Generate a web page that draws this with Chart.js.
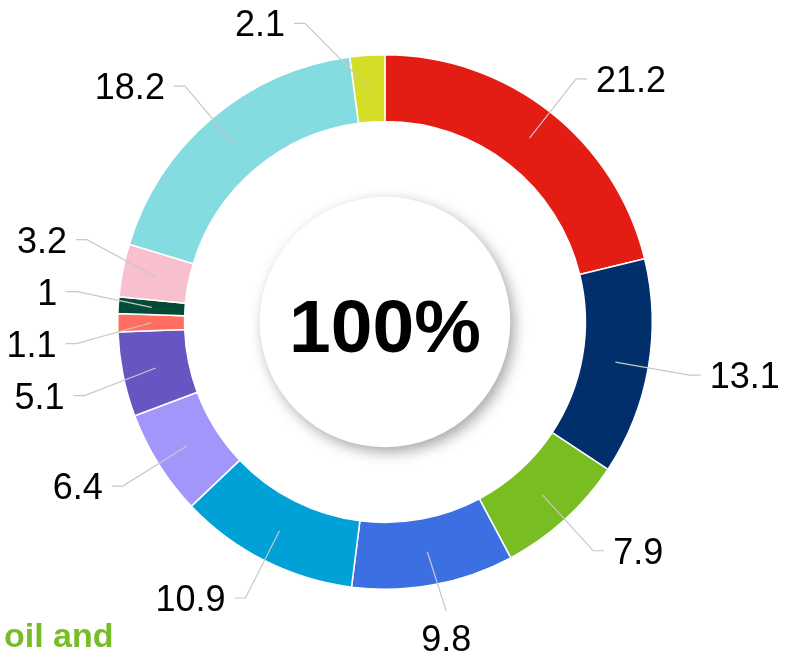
<!DOCTYPE html>
<html>
<head>
<meta charset="utf-8">
<script src="https://cdn.jsdelivr.net/npm/chart.js@4.4.0/dist/chart.umd.min.js"></script>
<style>
    body { margin: 0; background: #fff; }
    #wrap { position: relative; width: 790px; height: 653px; overflow: hidden; }
    #note {
        position: absolute; left: 4px; top: 618px;
        font: bold 34px "Liberation Sans", Arial, sans-serif; line-height: 34px;
        color: #78bc28; white-space: nowrap;
    }
</style>
</head>
<body>
<div id="wrap">
    <canvas id="myChart" width="790" height="653"></canvas>
    <div id="note">oil and</div>
</div>
<script>
// Valores das fatias (sentido horário a partir do topo)
let values = [21.2, 13.1, 7.9, 9.8, 10.9, 6.4, 5.1, 1.1, 1, 3.2, 18.2, 2.1];
let labels = ['21.2', '13.1', '7.9', '9.8', '10.9', '6.4', '5.1', '1.1', '1', '3.2', '18.2', '2.1'];
let colors = ['#e41d14', '#002f6c', '#78bd22', '#3b6fe2', '#00a1d7', '#a396fb',
              '#6855c1', '#ff6e61', '#004c36', '#f8bfcf', '#85dce0', '#d4de26'];
let centerText = '100%';

const FONT = '"Liberation Sans", Arial, sans-serif';
const MIN_DX = 80;   // rótulos não ficam colados no eixo vertical

// Espalha os rótulos de um lado para não se sobreporem
function spread(list, gap) {
    list.sort((a, b) => a.ey - b.ey);
    let groups = list.map(it => ({ items: [it], sum: it.ey, top: it.ey }));
    let merged = true;
    while (merged) {
        merged = false;
        for (let k = 0; k < groups.length - 1; k++) {
            const g = groups[k], h = groups[k + 1];
            const gBottom = g.top + (g.items.length - 1) * gap;
            if (h.top - gBottom < gap) {
                const items = g.items.concat(h.items);
                const sum = g.sum + h.sum;
                const top = sum / items.length - (items.length - 1) * gap / 2;
                groups.splice(k, 2, { items, sum, top });
                merged = true;
                break;
            }
        }
    }
    groups.forEach(g => g.items.forEach((it, j) => it.ly = g.top + j * gap));
}

const labelLines = {
    id: 'labelLines',
    afterDatasetsDraw(chart) {
        const ctx = chart.ctx;
        const meta = chart.getDatasetMeta(0);
        let items = meta.data.map((arc, i) => {
            const p = arc.getProps(['x', 'y', 'startAngle', 'endAngle', 'innerRadius', 'outerRadius'], true);
            const mid = (p.startAngle + p.endAngle) / 2;
            const c = Math.cos(mid), s = Math.sin(mid);
            const rm = (p.innerRadius + p.outerRadius) / 2;
            const r1 = p.outerRadius + 42;
            let ey = p.y + r1 * s;
            if (Math.abs(r1 * c) < MIN_DX) {
                ey = p.y + Math.sign(s) * Math.sqrt(r1 * r1 - MIN_DX * MIN_DX);
            }
            return {
                i, cx: p.x, cy: p.y, c, s, r1,
                sx: p.x + rm * c, sy: p.y + rm * s,
                ey,
                below: s > 0.9 && Math.abs(c) < 0.25
            };
        });

        spread(items.filter(it => !it.below && it.c < 0), 52);
        spread(items.filter(it => !it.below && it.c >= 0), 52);

        ctx.save();
        ctx.strokeStyle = '#c8c8c8';
        ctx.lineWidth = 1.2;
        ctx.fillStyle = '#000';
        ctx.font = '36px ' + FONT;
        items.forEach(it => {
            const txt = labels[it.i];
            if (it.below) {
                const ex = it.cx + (it.r1 - 15) * it.c + 8;
                const ey = it.cy + (it.r1 - 15) * it.s;
                ctx.beginPath();
                ctx.moveTo(it.sx, it.sy);
                ctx.lineTo(ex, ey);
                ctx.stroke();
                ctx.textAlign = 'center';
                ctx.fillText(txt, ex, ey + 40);
                return;
            }
            const side = it.c < 0 ? -1 : 1;
            let dy = it.ly - it.cy;
            const maxDy = Math.sqrt(it.r1 * it.r1 - MIN_DX * MIN_DX);
            dy = Math.max(-maxDy, Math.min(maxDy, dy));
            const ex = it.cx + side * Math.sqrt(it.r1 * it.r1 - dy * dy);
            const ey = it.ly;
            const tx = ex + side * 11;
            ctx.beginPath();
            ctx.moveTo(it.sx, it.sy);
            ctx.lineTo(ex, ey);
            ctx.lineTo(tx, ey);
            ctx.stroke();
            ctx.textAlign = side < 0 ? 'right' : 'left';
            ctx.fillText(txt, tx + side * 9, ey + 13);
        });
        ctx.restore();
    },
    afterDraw(chart) {
        const ctx = chart.ctx;
        const arc = chart.getDatasetMeta(0).data[0];
        const p = arc.getProps(['x', 'y', 'innerRadius'], true);
        const r = p.innerRadius * 0.625;
        ctx.save();
        ctx.shadowColor = 'rgba(0,0,0,0.35)';
        ctx.shadowBlur = 14;
        ctx.shadowOffsetX = 4;
        ctx.shadowOffsetY = 5;
        ctx.fillStyle = '#fff';
        ctx.beginPath();
        ctx.arc(p.x, p.y, r, 0, Math.PI * 2);
        ctx.fill();
        ctx.restore();

        ctx.save();
        ctx.fillStyle = '#000';
        ctx.font = 'bold 75px ' + FONT;
        ctx.textAlign = 'center';
        ctx.fillText(centerText, p.x, p.y + 30);
        ctx.restore();
    }
};

let myChart = new Chart(document.getElementById('myChart'), {
    type: 'doughnut',
    data: {
        labels: labels,
        datasets: [{
            data: values,
            backgroundColor: colors,
            borderColor: '#fff',
            borderWidth: 1.5
        }]
    },
    options: {
        responsive: false,
        animation: false,
        cutout: '75%',
        layout: { padding: { left: 117, right: 137, top: 54, bottom: 63 } },
        plugins: {
            legend: { display: false },
            tooltip: { enabled: false }
        }
    },
    plugins: [labelLines]
});
</script>
</body>
</html>
